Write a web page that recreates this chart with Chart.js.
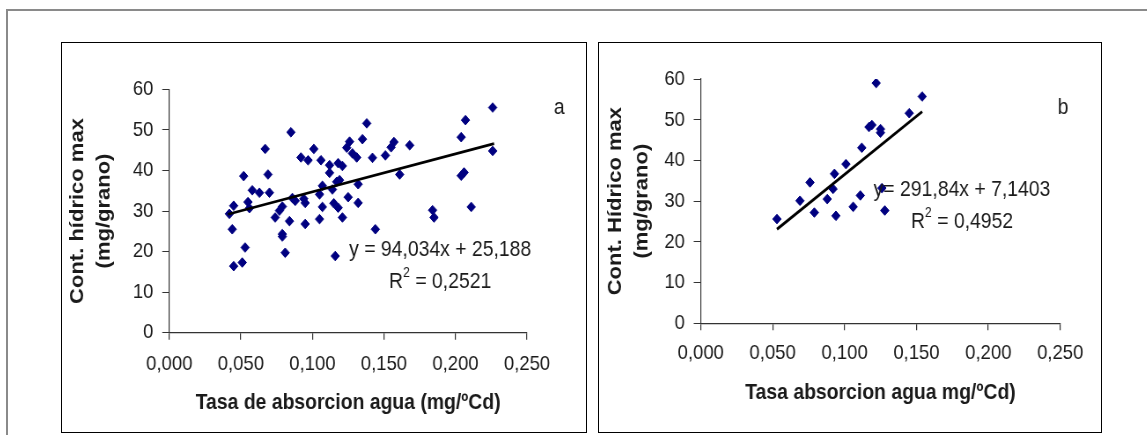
<!DOCTYPE html>
<html lang="es">
<head>
<meta charset="UTF-8">
<title>Contenido hídrico max vs tasa de absorción de agua</title>
<script src="https://cdn.jsdelivr.net/npm/chart.js"></script>
<style>
  body { margin: 0; width: 1147px; height: 435px; background: #fff; overflow: hidden; position: relative; }
  .frame { position: absolute; left: 6px; top: 9px; width: 1300px; height: 600px; border-top: 2px solid #8a8a8a; border-left: 2px solid #8a8a8a; }
  .panel { position: absolute; border: 1px solid #000; box-sizing: border-box; background: #fff; overflow: hidden; }
  #panelA { left: 61px; top: 42px; width: 526px; height: 391px; }
  #panelB { left: 598px; top: 42px; width: 504px; height: 391px; }
  /* the original figure is squeezed sideways, so the charts are too */
  .panel canvas { position: absolute; left: 0; top: 0; transform: scaleX(0.8807); transform-origin: 0 0; }
</style>
</head>
<body>
  <div class="frame"></div>
  <div class="panel" id="panelA"><canvas id="chartA" width="595" height="389"></canvas></div>
  <div class="panel" id="panelB"><canvas id="chartB" width="570" height="389"></canvas></div>

<script>
// ---- data ----
const xTickLabels = ['0,000', '0,050', '0,100', '0,150', '0,200', '0,250'];
const yTickLabels = ['0', '10', '20', '30', '40', '50', '60'];

// panel a
const tasaA = [0.042, 0.045, 0.044, 0.045, 0.051, 0.053, 0.052, 0.055, 0.056, 0.058,
  0.063, 0.067, 0.069, 0.070, 0.074, 0.077, 0.079, 0.079, 0.079, 0.081,
  0.084, 0.085, 0.086, 0.088, 0.092, 0.094, 0.095, 0.095, 0.097, 0.101,
  0.105, 0.105, 0.106, 0.107, 0.107, 0.112, 0.112, 0.114, 0.116, 0.115,
  0.118, 0.117, 0.118, 0.121, 0.121, 0.125, 0.124, 0.126, 0.128, 0.131,
  0.135, 0.138, 0.142, 0.132, 0.132, 0.144, 0.151, 0.155, 0.157, 0.161,
  0.168, 0.184, 0.185, 0.204, 0.207, 0.204, 0.206, 0.211, 0.226, 0.226, 0.119];
const contA = [29.3, 31.3, 25.5, 16.4, 17.3, 21.0, 38.6, 32.2, 30.7, 35.1,
  34.5, 45.3, 39.0, 34.5, 28.4, 30.1, 31.1, 24.3, 23.7, 19.7,
  27.5, 49.4, 33.2, 32.5, 43.2, 33.0, 32.0, 26.8, 42.5, 45.3,
  34.1, 28.0, 42.5, 36.2, 31.0, 41.3, 39.4, 35.3, 18.9, 31.9,
  30.8, 37.2, 41.8, 41.1, 28.4, 33.4, 45.6, 47.1, 44.2, 43.2,
  47.7, 51.6, 43.1, 36.6, 32.0, 25.5, 43.7, 45.7, 47.0, 39.0,
  46.2, 30.2, 28.4, 48.2, 52.4, 38.7, 39.5, 31.0, 55.5, 44.8, 37.6];
const trendTasaA = [0.041, 0.227];
const trendContA = [29.2, 46.6];

// panel b
const tasaB = [0.053, 0.069, 0.076, 0.079, 0.088, 0.092, 0.093, 0.094, 0.101, 0.106,
  0.111, 0.112, 0.117, 0.119, 0.122, 0.125, 0.125, 0.126, 0.128, 0.145, 0.154];
const contB = [25.6, 30.1, 34.6, 27.2, 30.5, 33.0, 36.7, 26.4, 39.1, 28.6,
  31.4, 43.1, 48.2, 48.7, 59.0, 47.7, 46.8, 33.2, 27.7, 51.6, 55.7];
const trendTasaB = [0.053, 0.154];
const trendContB = [23.1, 52.0];

const eqA = 'y = 94,034x + 25,188', r2A = '0,2521';
const eqB = 'y= 291,84x + 7,1403', r2B = '0,4952';

// ---- helpers ----
const FONT = 'Arial, "Liberation Sans", sans-serif';
const INK = '#1a1a1a';
const toPoints = (xs, ys) => xs.map((v, i) => ({ x: v, y: ys[i] }));

// text notes: equation, R² with superscript, panel letter
const notesPlugin = {
  id: 'notes',
  afterDatasetsDraw(chart, args, opts) {
    const { ctx, scales: { x, y } } = chart;
    ctx.save();
    ctx.fillStyle = INK;
    ctx.textBaseline = 'middle';
    const big = '22px ' + FONT, small = '14px ' + FONT;
    opts.items.forEach(it => {
      const px = x.getPixelForValue(it.x);
      const py = y.getPixelForValue(it.y);
      if (it.r2) {
        ctx.font = big;
        const wR = ctx.measureText('R').width;
        const rest = ' = ' + it.text;
        const wRest = ctx.measureText(rest).width;
        ctx.font = small;
        const w2 = ctx.measureText('2').width;
        const sx = px - (wR + w2 + wRest) / 2;
        ctx.textAlign = 'left';
        ctx.font = big;
        ctx.fillText('R', sx, py);
        ctx.font = small;
        ctx.fillText('2', sx + wR, py - 9);
        ctx.font = big;
        ctx.fillText(rest, sx + wR + w2, py);
      } else {
        ctx.font = big;
        ctx.textAlign = 'center';
        ctx.fillText(it.text, px, py);
      }
    });
    ctx.restore();
  }
};

function makeChart(id, cfg) {
  return new Chart(document.getElementById(id), {
    type: 'scatter',
    data: {
      datasets: [
        {
          type: 'line',
          data: cfg.trend,
          borderColor: '#000',
          borderWidth: 2.8,
          pointRadius: 0,
          fill: false
        },
        {
          data: cfg.points,
          pointStyle: 'rectRot',
          pointRadius: 4.8,
          backgroundColor: '#000080',
          borderColor: '#000080',
          borderWidth: 1
        }
      ]
    },
    options: {
      responsive: false,
      animation: false,
      events: [],
      layout: { padding: cfg.padding },
      plugins: {
        legend: { display: false },
        tooltip: { enabled: false },
        notes: { items: cfg.notes }
      },
      scales: {
        x: {
          type: 'linear',
          min: 0, max: 0.25,
          afterFit: s => { s.height = cfg.xHeight; },
          grid: { display: true, drawOnChartArea: false, drawTicks: true, tickLength: 7, color: '#333', lineWidth: 1.2 },
          border: { display: true, color: '#333', width: 1.2 },
          ticks: {
            stepSize: 0.05, autoSkip: false, maxRotation: 0, padding: cfg.xTickPad,
            color: INK, font: { family: FONT, size: 21 },
            callback: (v, i) => xTickLabels[i]
          },
          title: {
            display: true, text: cfg.xTitle, color: INK,
            font: { family: FONT, size: 22, weight: 'bold' },
            padding: { top: 0, bottom: cfg.xTitlePad }
          }
        },
        y: {
          min: 0, max: 60,
          afterFit: s => { s.width = cfg.yWidth; },
          grid: { display: true, drawOnChartArea: false, drawTicks: true, tickLength: 8, color: '#333', lineWidth: 1 },
          border: { display: true, color: '#333', width: 1.2 },
          ticks: {
            stepSize: 10, padding: 10,
            color: INK, font: { family: FONT, size: 21 },
            callback: (v, i) => yTickLabels[i]
          },
          title: {
            display: true, text: cfg.yTitle, color: INK,
            font: { family: FONT, size: 22, weight: 'bold', lineHeight: 1.34 },
            padding: { top: cfg.yTitlePad, bottom: 0 }
          }
        }
      }
    },
    plugins: [notesPlugin]
  });
}

// panel a
makeChart('chartA', {
  points: toPoints(tasaA, contA),
  trend: toPoints(trendTasaA, trendContA),
  padding: { left: 0, top: 46.3, right: 67, bottom: 0 },
  yWidth: 121.8,
  xHeight: 99.3,
  xTickPad: 11.5,
  xTitle: 'Tasa de absorcion agua (mg/ºCd)',
  xTitlePad: 15.8,
  yTitle: ['Cont. hídrico max', '(mg/grano)'],
  yTitlePad: 3.4,
  notes: [
    { x: 0.1893, y: 20.4, text: eqA },
    { x: 0.1893, y: 12.5, text: r2A, r2: true },
    { x: 0.2725, y: 55.3, text: 'a' }
  ]
});

// panel b
makeChart('chartB', {
  points: toPoints(tasaB, contB),
  trend: toPoints(trendTasaB, trendContB),
  padding: { left: 0, top: 36, right: 46.3, bottom: 0 },
  yWidth: 115.5,
  xHeight: 108.7,
  xTickPad: 10.1,
  xTitle: 'Tasa absorcion agua mg/ºCd)',
  xTitlePad: 25.8,
  yTitle: ['Cont. Hídrico max', '(mg/grano)'],
  yTitlePad: 4.5,
  notes: [
    { x: 0.1817, y: 32.75, text: eqB },
    { x: 0.1817, y: 24.9, text: r2B, r2: true },
    { x: 0.252, y: 52.9, text: 'b' }
  ]
});
</script>
</body>
</html>
